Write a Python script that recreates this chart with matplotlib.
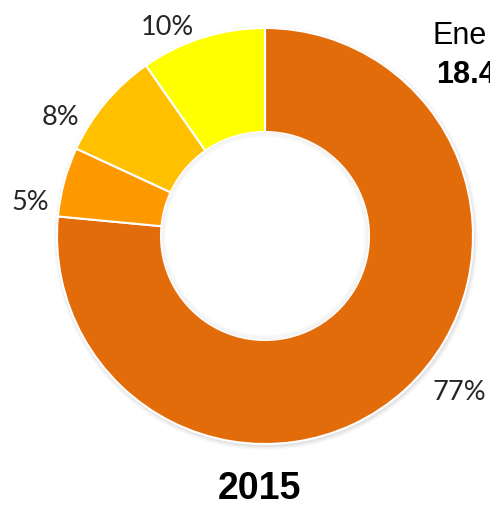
import matplotlib
matplotlib.use('Agg')
import matplotlib.pyplot as plt
from matplotlib.patches import Circle

# data (shares, labels as printed)
shares = [76.5, 5.4, 8.4, 9.7]
labels = ['77%', '5%', '8%', '10%']
colors = ['#E36C0A', '#FF9900', '#FFC000', '#FFFF00']
year = '2015'
side_title = 'Ene'
side_value = '18.4'

W, H = 490, 506
fig = plt.figure(figsize=(W / 100, H / 100), dpi=100)
ax = fig.add_axes([0, 0, 1, 1])

cx, cy = 265, H - 237
r_out = 208
ring = 104

# soft shadow round the ring
for i, a in enumerate([0.05, 0.07, 0.10]):
    ax.add_patch(Circle((cx + 1, cy - 2), r_out + 4 - i * 1.5, color='#808080',
                        alpha=a, lw=0, zorder=0))

ax.pie(shares, colors=colors, startangle=90, counterclock=False,
       center=(cx, cy), radius=r_out, frame=True,
       wedgeprops=dict(width=ring, edgecolor='white', linewidth=1.5, zorder=2))
ax.set_xlim(0, W)
ax.set_ylim(0, H)
ax.set_aspect('equal')
ax.axis('off')

# inner hole with a faint inset shadow
ax.add_patch(Circle((cx, cy), r_out - ring - 0.5, color='white', lw=0, zorder=4))
for i, a in enumerate([0.08, 0.06, 0.04]):
    ax.add_patch(Circle((cx, cy), r_out - ring - 1 - i * 1.5, fill=False,
                        edgecolor='#909090', alpha=a, lw=1.5, zorder=4))

label_pos = [(459, 393), (30, 203), (60, 117), (167, 27)]
for lab, (x, y) in zip(labels, label_pos):
    ax.text(x, H - y, lab, ha='center', va='center', fontsize=19.5,
            family='Lato', color='#262626', zorder=5)

ax.text(259, H - 489, year, ha='center', va='center', fontsize=27,
        fontweight='bold', family='Liberation Sans', color='black')
ax.text(432, H - 36, side_title, ha='left', va='center', fontsize=22,
        family='Liberation Sans', color='black')
ax.text(436, H - 75, side_value, ha='left', va='center', fontsize=22,
        fontweight='bold', family='Liberation Sans', color='black')

fig.savefig('out.png', dpi=100)
